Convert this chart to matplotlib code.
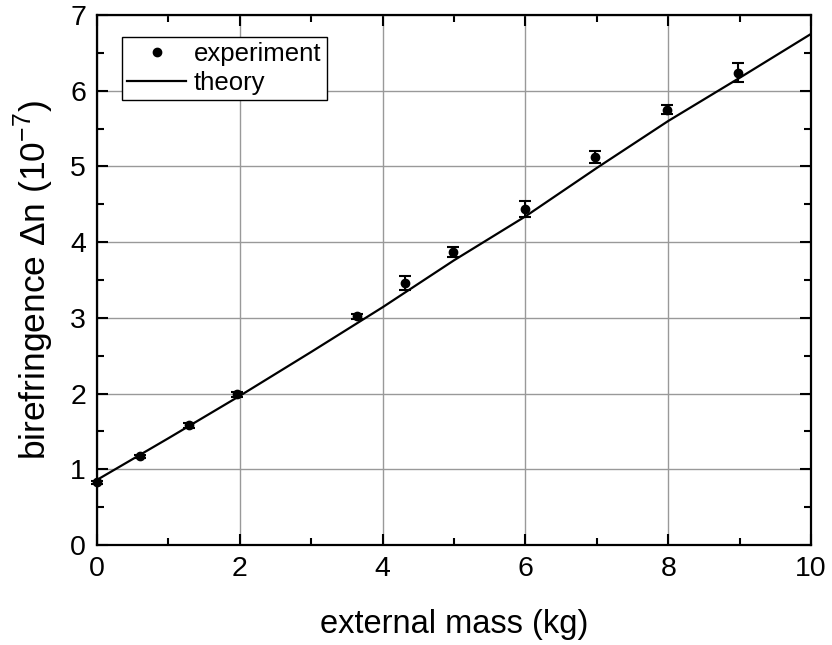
import matplotlib
matplotlib.use("Agg")
import matplotlib.pyplot as plt
from matplotlib.ticker import MultipleLocator
from matplotlib.lines import Line2D

plt.rcParams['font.family'] = ['Liberation Sans', 'DejaVu Sans']
plt.rcParams['mathtext.fontset'] = 'custom'
plt.rcParams['mathtext.rm'] = 'Liberation Sans'

# experiment data
mass = [0.0, 0.60, 1.29, 1.96, 3.64, 4.31, 4.98, 5.99, 6.98, 7.98, 8.98]
biref = [0.83, 1.17, 1.58, 1.99, 3.02, 3.46, 3.87, 4.44, 5.13, 5.75, 6.24]
biref_err = [0.02, 0.02, 0.03, 0.03, 0.03, 0.09, 0.065, 0.11, 0.08, 0.06, 0.13]

# theory curve
theory_x = [0, 1, 2, 3, 4, 5, 6, 7, 8, 9, 10]
theory_y = [0.86, 1.41, 1.97, 2.55, 3.14, 3.76, 4.34, 4.98, 5.60, 6.17, 6.75]

fig = plt.figure(figsize=(8.32, 6.45), dpi=100)
ax = fig.add_axes([97/832, 100/645, 714/832, 530/645])

ax.grid(True, color='#999999', linewidth=1.0)
ax.set_axisbelow(True)

ax.plot(theory_x, theory_y, color='black', linewidth=1.6, label='theory', zorder=3)
ax.errorbar(mass, biref, yerr=biref_err, fmt='o', color='black', markersize=6,
            elinewidth=1.5, capsize=4.5, capthick=1.5, label='experiment', zorder=4,
            clip_on=False)

ax.set_xlim(0, 10)
ax.set_ylim(0, 7)
ax.xaxis.set_major_locator(MultipleLocator(2))
ax.xaxis.set_minor_locator(MultipleLocator(1))
ax.yaxis.set_major_locator(MultipleLocator(1))
ax.yaxis.set_minor_locator(MultipleLocator(0.5))
ax.tick_params(which='both', direction='in', top=True, right=True, width=1.5)
ax.tick_params(which='major', length=8, labelsize=20.5, pad=8)
ax.tick_params(which='minor', length=5)
for s in ax.spines.values():
    s.set_linewidth(1.6)

ax.set_xlabel('external mass (kg)', fontsize=23.5, labelpad=19)
ax.set_ylabel(r'birefringence $\Delta$n (10$^{-7}$)', fontsize=25.5, labelpad=10)

h_exp = Line2D([], [], marker='o', linestyle='none', color='black', markersize=6)
h_th = Line2D([], [], color='black', linewidth=1.6)
leg = ax.legend([h_exp, h_th], ['experiment', 'theory'], loc='upper left',
                bbox_to_anchor=(0.035, 0.959), fontsize=18.5, frameon=True,
                fancybox=False, edgecolor='black', framealpha=1,
                handlelength=2.3, handletextpad=0.3, borderpad=0.2,
                labelspacing=0.2, borderaxespad=0)
leg.get_frame().set_linewidth(1.0)

fig.savefig('out.png', dpi=100)
